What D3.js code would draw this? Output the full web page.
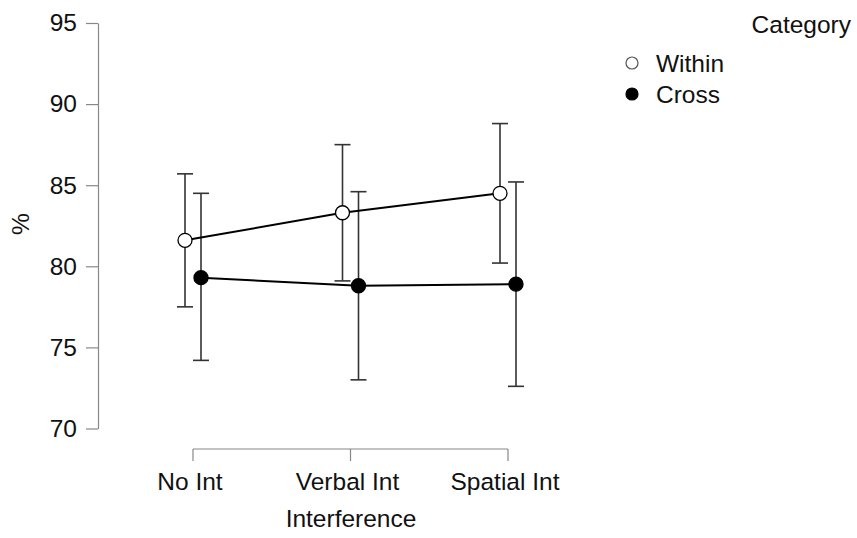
<!DOCTYPE html>
<html><head><meta charset="utf-8">
<script src="https://cdn.jsdelivr.net/npm/d3@7"></script>
<style>body{margin:0;background:#fff}svg{display:block}text{font-family:"Liberation Sans",Arial,sans-serif;fill:#111}</style>
</head><body><svg id="c" width="857" height="538"></svg>
<script>
const categories = ["No Int", "Verbal Int", "Spatial Int"];
const seriesNames = ["Within", "Cross"];
const withinMean = [81.6, 83.3, 84.5];
const withinLo = [77.5, 79.1, 80.2];
const withinHi = [85.7, 87.5, 88.8];
const crossMean = [79.3, 78.8, 78.9];
const crossLo = [74.2, 73.0, 72.6];
const crossHi = [84.5, 84.6, 85.2];
const yTicks = [70, 75, 80, 85, 90, 95];
const xTitle = "Interference";
const yTitle = "%";
const legendTitle = "Category";

const svg = d3.select("#c");
const FS = 24.5;
const y = d3.scaleLinear().domain([70, 95]).range([428.5, 23]);
const x = d3.scalePoint().domain(categories).range([193, 508]);
const dodge = 8;

const series = [
  {name: seriesNames[0], mean: withinMean, lo: withinLo, hi: withinHi, fill: "#fff", off: -dodge},
  {name: seriesNames[1], mean: crossMean, lo: crossLo, hi: crossHi, fill: "#000", off: dodge}
];

// Y axis
const yAxis = svg.append("g").attr("transform", "translate(98,0)")
  .call(d3.axisLeft(y).tickValues(yTicks).tickSize(12).tickPadding(9).tickSizeOuter(0));
yAxis.select(".domain").attr("stroke", "#888").attr("stroke-width", 1.2);
yAxis.selectAll(".tick line").attr("stroke", "#888").attr("stroke-width", 1.2);
yAxis.selectAll(".tick text").attr("font-size", FS).attr("font-family", "Liberation Sans, Arial").attr("fill", "#111");

// X axis
const xAxis = svg.append("g").attr("transform", "translate(0,449)");
xAxis.append("line").attr("x1", x(categories[0])).attr("x2", x(categories[2])).attr("stroke", "#888").attr("stroke-width", 1.2);
xAxis.selectAll(".tk").data(categories).join("line")
  .attr("x1", d => x(d)).attr("x2", d => x(d)).attr("y1", 0).attr("y2", 12)
  .attr("stroke", "#888").attr("stroke-width", 1.2);
xAxis.selectAll(".lb").data(categories).join("text")
  .attr("x", d => x(d) - 3).attr("y", 32).attr("dy", "0.35em").attr("text-anchor", "middle")
  .attr("font-size", FS).text(d => d);

svg.append("text").attr("x", 351).attr("y", 518).attr("dy", "0.35em").attr("text-anchor", "middle")
  .attr("font-size", FS).text(xTitle);
svg.append("text").attr("transform", "translate(20,224) rotate(-90)").attr("dy", "0.35em")
  .attr("text-anchor", "middle").attr("font-size", FS).text(yTitle);

// Error bars
series.forEach(s => {
  const g = svg.append("g");
  categories.forEach((c, i) => {
    const cx = x(c) + s.off;
    g.append("line").attr("x1", cx).attr("x2", cx).attr("y1", y(s.lo[i])).attr("y2", y(s.hi[i]))
      .attr("stroke", "#333").attr("stroke-width", 1.6);
    [s.lo[i], s.hi[i]].forEach(v => g.append("line").attr("x1", cx - 8).attr("x2", cx + 8)
      .attr("y1", y(v)).attr("y2", y(v)).attr("stroke", "#333").attr("stroke-width", 1.6));
  });
});
// Lines
series.forEach(s => {
  svg.append("path").datum(categories.map((c, i) => [x(c) + s.off, y(s.mean[i])]))
    .attr("d", d3.line()).attr("fill", "none").attr("stroke", "#000").attr("stroke-width", 2);
});
// Points
series.forEach(s => {
  svg.append("g").selectAll("circle").data(categories).join("circle")
    .attr("cx", d => x(d) + s.off).attr("cy", (d, i) => y(s.mean[i])).attr("r", 7)
    .attr("fill", s.fill).attr("stroke", "#000").attr("stroke-width", 1.3);
});

// Legend
svg.append("text").attr("x", 851).attr("y", 24).attr("dy", "0.35em").attr("text-anchor", "end")
  .attr("font-size", FS).text(legendTitle);
const lg = svg.append("g");
series.forEach((s, i) => {
  const ly = 63 + i * 31;
  lg.append("circle").attr("cx", 632).attr("cy", ly).attr("r", 6).attr("fill", s.fill)
    .attr("stroke", i === 0 ? "#555" : "#000").attr("stroke-width", 1.2);
  lg.append("text").attr("x", 656).attr("y", ly).attr("dy", "0.35em").attr("font-size", FS).text(s.name);
});
</script></body></html>
